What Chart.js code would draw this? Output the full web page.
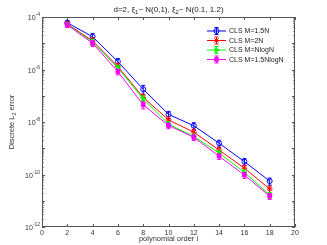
<!DOCTYPE html>
<html>
<head>
<meta charset="utf-8">
<script src="https://cdn.jsdelivr.net/npm/chart.js@4/dist/chart.umd.min.js"></script>
<style>
  html, body { margin: 0; padding: 0; background: #fff; }
  #wrap { width: 327px; height: 245px; }
</style>
</head>
<body>
<div id="wrap"><canvas id="errChart" width="327" height="245"></canvas></div>
<script>
// polynomial order i
const orders = [2, 4, 6, 8, 10, 12, 14, 16, 18];

// discrete L2 error
const cls15N = [6.0e-5, 1.78e-5, 2.0e-6, 1.78e-7, 1.95e-8, 7.2e-9, 1.55e-9, 3.1e-10, 5.6e-11];
const cls2N = [5.4e-5, 1.23e-5, 1.29e-6, 8.7e-8, 1.2e-8, 4.1e-9, 8.5e-10, 1.74e-10, 2.8e-11];
const clsNlogN = [5.2e-5, 1.12e-5, 1.15e-6, 7.6e-8, 8.3e-9, 2.8e-9, 6.6e-10, 1.2e-10, 1.66e-11];
const cls15NlogN = [5.0e-5, 1.0e-5, 8.3e-7, 4.5e-8, 7.4e-9, 2.6e-9, 5.0e-10, 9.5e-11, 1.5e-11];

// relative half width of the error bars
const err15N = [0.25, 0.3, 0.3, 0.4, 0.3, 0.3, 0.3, 0.3, 0.3];
const err2N = [0.25, 0.3, 0.3, 0.35, 0.3, 0.3, 0.3, 0.3, 0.3];
const errNlogN = [0.2, 0.25, 0.25, 0.3, 0.25, 0.25, 0.25, 0.25, 0.25];
const err15NlogN = [0.2, 0.25, 0.25, 0.3, 0.25, 0.25, 0.25, 0.25, 0.25];

const seriesLabels = ['CLS M=1.5N', 'CLS M=2N', 'CLS M=NlogN', 'CLS M=1.5NlogN'];
const xTicks = [0, 2, 4, 6, 8, 10, 12, 14, 16, 18, 20];
const yExps = [-4, -6, -8, -10, -12];

const FONT = 'Liberation Sans, Arial, sans-serif';
const AXIS = '#555';

function pts(vals) {
  return orders.map((o, i) => ({ x: o, y: vals[i] }));
}

const styles = [
  { color: '#0000ff', fill: 'rgba(0,0,0,0)', point: 'circle', rot: 0, r: 2.5 },
  { color: '#ff0000', fill: '#ff0000', point: 'star', rot: 0, r: 3 },
  { color: '#00ff00', fill: '#00ff00', point: 'triangle', rot: 90, r: 2.7 },
  { color: '#ff00ff', fill: '#ff00ff', point: 'rect', rot: 0, r: 2.6 }
];
const allVals = [cls15N, cls2N, clsNlogN, cls15NlogN];
const allErr = [err15N, err2N, errNlogN, err15NlogN];

const datasets = allVals.map((v, k) => ({
  label: seriesLabels[k],
  data: pts(v),
  errs: allErr[k],
  borderColor: styles[k].color,
  backgroundColor: styles[k].fill,
  borderWidth: 1,
  pointStyle: styles[k].point,
  pointRotation: styles[k].rot,
  pointRadius: styles[k].r,
  pointBorderWidth: 1,
  pointBorderColor: styles[k].color,
  pointBackgroundColor: styles[k].fill,
  tension: 0,
  order: 3 - k
}));

// error bars, drawn with each dataset
const errorBars = {
  id: 'errorBars',
  afterDatasetDraw(chart, args) {
    const ds = chart.data.datasets[args.index];
    const meta = args.meta;
    const ys = chart.scales.y;
    const ctx = chart.ctx;
    ctx.save();
    ctx.strokeStyle = ds.borderColor;
    ctx.lineWidth = 1;
    meta.data.forEach((p, i) => {
      const v = ds.data[i].y;
      const e = ds.errs[i];
      const y1 = ys.getPixelForValue(v * (1 + e));
      const y2 = ys.getPixelForValue(v * (1 - e));
      ctx.beginPath();
      ctx.moveTo(p.x, y1); ctx.lineTo(p.x, y2);
      ctx.moveTo(p.x - 2, y1); ctx.lineTo(p.x + 2, y1);
      ctx.moveTo(p.x - 2, y2); ctx.lineTo(p.x + 2, y2);
      ctx.stroke();
    });
    ctx.restore();
  }
};

// matlab style box, inward ticks, labels, title and legend
const frame = {
  id: 'frame',
  afterDraw(chart) {
    const { ctx, chartArea: a, scales } = chart;
    const xs = scales.x, ys = scales.y;
    ctx.save();
    ctx.strokeStyle = AXIS;
    ctx.lineWidth = 1;
    ctx.strokeRect(a.left + 0.5, a.top + 0.5, a.right - a.left - 1, a.bottom - a.top - 1);

    ctx.beginPath();
    xTicks.forEach(t => {
      const px = Math.round(xs.getPixelForValue(t)) + 0.5;
      ctx.moveTo(px, a.bottom); ctx.lineTo(px, a.bottom - 3);
      ctx.moveTo(px, a.top); ctx.lineTo(px, a.top + 3);
    });
    for (let e = -12; e <= -4; e++) {
      for (let m = 1; m <= 9; m++) {
        if (e === -4 && m > 1) break;
        const py = Math.round(ys.getPixelForValue(m * Math.pow(10, e))) + 0.5;
        const len = m === 1 ? 3 : 1.6;
        ctx.moveTo(a.left, py); ctx.lineTo(a.left + len, py);
        ctx.moveTo(a.right, py); ctx.lineTo(a.right - len, py);
      }
    }
    ctx.stroke();

    // tick labels
    ctx.fillStyle = '#333';
    ctx.font = '7px ' + FONT;
    ctx.textAlign = 'center';
    ctx.textBaseline = 'top';
    xTicks.forEach(t => {
      ctx.fillText(String(t), xs.getPixelForValue(t), a.bottom + 3);
    });
    yExps.forEach(e => {
      const py = ys.getPixelForValue(Math.pow(10, e));
      const exp = String(e);
      ctx.font = '5px ' + FONT;
      const we = ctx.measureText(exp).width;
      ctx.textAlign = 'left';
      ctx.textBaseline = 'alphabetic';
      const xe = a.left - 2 - we;
      ctx.fillText(exp, xe, py - 1);
      ctx.font = '7px ' + FONT;
      ctx.textAlign = 'right';
      ctx.fillText('10', xe, py + 3);
    });

    // axis titles
    ctx.font = '7.5px ' + FONT;
    ctx.textAlign = 'center';
    ctx.textBaseline = 'alphabetic';
    ctx.fillText('polynomial order i', (a.left + a.right) / 2, 241);
    ctx.save();
    ctx.translate(14, (a.top + a.bottom) / 2);
    ctx.rotate(-Math.PI / 2);
    ctx.font = '7.5px ' + FONT;
    const p1 = 'Discrete L', p2 = '2', p3 = ' error';
    const w1 = ctx.measureText(p1).width, w3 = ctx.measureText(p3).width;
    ctx.font = '5.5px ' + FONT;
    const w2 = ctx.measureText(p2).width;
    let x0 = -(w1 + w2 + w3) / 2;
    ctx.textAlign = 'left';
    ctx.font = '7.5px ' + FONT;
    ctx.fillText(p1, x0, 0);
    ctx.font = '5.5px ' + FONT;
    ctx.fillText(p2, x0 + w1, 2);
    ctx.font = '7.5px ' + FONT;
    ctx.fillText(p3, x0 + w1 + w2, 0);
    ctx.restore();

    // title with subscripts
    const parts = [
      ['d=2, \u03be', 8, 0], ['1', 6, 2], ['~ N(0,1), \u03be', 8, 0], ['2', 6, 2], ['~ N(0.1, 1.2)', 8, 0]
    ];
    let tw = 0;
    parts.forEach(p => { ctx.font = p[1] + 'px ' + FONT; tw += ctx.measureText(p[0]).width; });
    let tx = (a.left + a.right) / 2 - tw / 2;
    ctx.fillStyle = '#222';
    ctx.textAlign = 'left';
    parts.forEach(p => {
      ctx.font = p[1] + 'px ' + FONT;
      ctx.fillText(p[0], tx, 12 + p[2]);
      tx += ctx.measureText(p[0]).width;
    });

    // legend
    const rows = [31, 40.5, 50, 59.5];
    chart.data.datasets.forEach((ds, k) => {
      const y = rows[k];
      const st = styles[k];
      ctx.strokeStyle = st.color;
      ctx.lineWidth = 1;
      ctx.beginPath();
      ctx.moveTo(207, y); ctx.lineTo(226, y);
      ctx.moveTo(216.5, y - 3.5); ctx.lineTo(216.5, y + 3.5);
      ctx.moveTo(214.5, y - 3.5); ctx.lineTo(218.5, y - 3.5);
      ctx.moveTo(214.5, y + 3.5); ctx.lineTo(218.5, y + 3.5);
      ctx.stroke();
      ctx.fillStyle = st.fill;
      Chart.helpers.drawPoint(ctx, { pointStyle: st.point, rotation: st.rot, radius: st.r, borderWidth: 1 }, 216.5, y);
      ctx.fillStyle = '#222';
      ctx.font = '7px ' + FONT;
      ctx.textAlign = 'left';
      ctx.textBaseline = 'middle';
      ctx.fillText(ds.label, 229, y + 0.5);
    });
    ctx.restore();
  }
};

new Chart(document.getElementById('errChart'), {
  type: 'line',
  data: { datasets },
  options: {
    responsive: false,
    animation: false,
    layout: { padding: { top: 17, right: 32, left: 0, bottom: 0 } },
    plugins: { legend: { display: false }, tooltip: { enabled: false } },
    scales: {
      x: {
        type: 'linear', min: 0, max: 20,
        grid: { display: false }, border: { display: false },
        ticks: { display: false },
        afterFit: s => { s.height = 18; }
      },
      y: {
        type: 'logarithmic', min: 1e-12, max: 1e-4,
        grid: { display: false }, border: { display: false },
        ticks: { display: false },
        afterFit: s => { s.width = 42; }
      }
    }
  },
  plugins: [errorBars, frame]
});
</script>
</body>
</html>
